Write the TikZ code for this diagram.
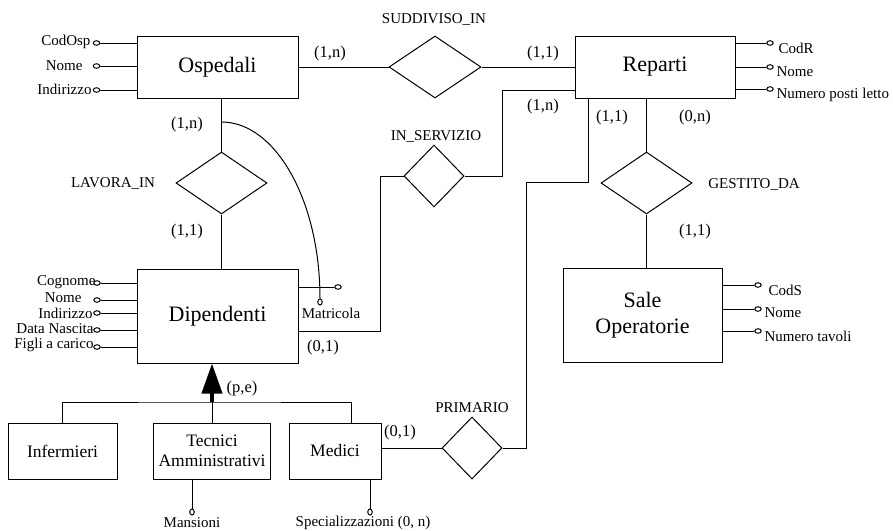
\documentclass[tikz,border=0pt]{standalone}
\usepackage{fontspec}
\setmainfont{Liberation Serif}
\usetikzlibrary{shapes.geometric, arrows.meta, positioning}
\tikzstyle{entity} = [rectangle, draw=black, text centered, align=center, inner sep=0pt, font=\fontsize{22}{26}\selectfont]
\tikzstyle{subent} = [rectangle, draw=black, align=center, inner sep=0pt, minimum height=56pt, font=\fontsize{17.5}{20}\selectfont]
\tikzstyle{rel} = [diamond, draw=black, inner sep=0pt, minimum height=62pt]
\tikzstyle{attr} = [ellipse, draw=black, fill=white, inner sep=0pt, minimum width=6.5pt, minimum height=4.5pt]
\tikzstyle{vattr} = [ellipse, draw=black, fill=white, inner sep=0pt, minimum width=4.5pt, minimum height=6pt]
\tikzstyle{lbl} = [inner sep=0pt, font=\fontsize{15}{17}\selectfont]
\tikzstyle{card} = [inner sep=0pt, font=\fontsize{16.5}{18}\selectfont]
\tikzstyle{isa} = [line width=4pt, -{Triangle[length=30pt, width=20pt]}]

\begin{document}
\begin{tikzpicture}[x=1pt, y=-1pt, line width=1pt]
	\useasboundingbox (0,0) rectangle (893,530);
	% entities
	\node (ospedali) [entity, minimum width=161pt, minimum height=62pt] at (217.5,67) {Ospedali};
	\node (suddiviso) [rel, minimum width=92pt, right=90pt of ospedali] {};
	\node (reparti) [entity, minimum width=160pt, minimum height=62pt, right=93pt of suddiviso] {Reparti};
	\node (dipendenti) [entity, minimum width=161pt, minimum height=94pt, below=170pt of ospedali] {Dipendenti};
	\node (lavora) [rel, minimum width=91pt] at (221.5,183) {};
	\node (servizio) [rel, minimum width=60pt] at (434,176) {};
	\node (gestito) [rel, minimum width=91pt] at (646.5,183) {};
	\node (sale) [entity, minimum width=159pt, minimum height=94pt] at (642.5,315) {Sale\\Operatorie};
	\node (infermieri) [subent, minimum width=109pt] at (62.5,451) {Infermieri};
	\node (tecnici) [subent, minimum width=117pt] at (212,451) {Tecnici\\Amministrativi};
	\node (medici) [subent, minimum width=92pt] at (335,451) {Medici};
	\node (primario) [rel, minimum width=60pt] at (472,448) {};
	\coordinate (arc) at (221.5,122);
	\coordinate (bendd) at (380,176);
	\coordinate (bends) at (502,90);
	\coordinate (bendp) at (526,182);
	\coordinate (gen) at (212,402);

	% relationships
	\draw (ospedali) -- (suddiviso);
	\draw (suddiviso) -- (reparti);
	\draw (lavora.north) -- (lavora.north |- ospedali.south);
	\draw (lavora.south) -- (lavora.south |- dipendenti.north);
	\draw ([yshift=-15pt]dipendenti.east) -| (bendd) -- (servizio.west);
	\draw (servizio.east) -| (bends) -- ([yshift=-23pt]reparti.west);
	\draw (gestito.north) -- (gestito.north |- reparti.south);
	\draw (gestito.south) -- (gestito.south |- sale.north);
	\draw (primario.west) -- (primario.west -| medici.east);
	\draw (primario.east) -| (bendp) -| ([xshift=-67pt]reparti.south);

	% generalizzazione
	\draw (infermieri.north) |- (gen) -| ([xshift=16pt]medici.north);
	\draw (tecnici.north) -- (gen);
	\draw [isa] (gen) -- (gen |- dipendenti.south);

	% attributi Ospedali
	\node (oc1) [attr] at (96.5,43) {};
	\node (oc2) [attr] at (96.5,66) {};
	\node (oc3) [attr] at (96.5,90) {};
	\draw (oc1) -- (oc1 -| ospedali.west);
	\draw (oc2) -- (oc2 -| ospedali.west);
	\draw (oc3) -- (oc3 -| ospedali.west);
	\node [lbl, anchor=east] at (91,42) {CodOsp};
	\node [lbl, anchor=east] at (83,66) {Nome};
	\node [lbl, anchor=east] at (92,89) {Indirizzo};

	% attributi Reparti
	\node (rc1) [attr] at (770,43) {};
	\node (rc2) [attr] at (770,67) {};
	\node (rc3) [attr] at (770,89) {};
	\draw (rc1) -- (rc1 -| reparti.east);
	\draw (rc2) -- (rc2 -| reparti.east);
	\draw (rc3) -- (rc3 -| reparti.east);
	\node [lbl, anchor=west] at (778,48) {CodR};
	\node [lbl, anchor=west] at (776,72) {Nome};
	\node [lbl, anchor=west] at (776,95) {Numero posti letto};

	% attributi Dipendenti
	\node (dc1) [attr] at (97,283) {};
	\node (dc2) [attr] at (97,300) {};
	\node (dc3) [attr] at (97,313) {};
	\node (dc4) [attr] at (97,330) {};
	\node (dc5) [attr] at (97,347) {};
	\draw (dc1) -- (dc1 -| dipendenti.west);
	\draw (dc2) -- (dc2 -| dipendenti.west);
	\draw (dc3) -- (dc3 -| dipendenti.west);
	\draw (dc4) -- (dc4 -| dipendenti.west);
	\draw (dc5) -- (dc5 -| dipendenti.west);
	\node [lbl, anchor=east] at (96,282) {Cognome};
	\node [lbl, anchor=east] at (82,298) {Nome};
	\node [lbl, anchor=east] at (93,313) {Indirizzo};
	\node [lbl, anchor=east] at (94,329) {Data Nascita};
	\node [lbl, anchor=east] at (94,345) {Figli a carico};
	\node (mc1) [attr] at (338,287) {};
	\node (mc2) [vattr] at (320,302) {};
	\draw (mc1) -- (mc1 -| dipendenti.east);
	\draw (arc) .. controls +(54,0) and +(0,-98) .. (mc2.north);
	\node [lbl] at (331,313) {Matricola};

	% attributi Sale Operatorie
	\node (sc1) [attr] at (758,285) {};
	\node (sc2) [attr] at (758,309) {};
	\node (sc3) [attr] at (758,331) {};
	\draw (sc1) -- (sc1 -| sale.east);
	\draw (sc2) -- (sc2 -| sale.east);
	\draw (sc3) -- (sc3 -| sale.east);
	\node [lbl, anchor=west] at (768,290) {CodS};
	\node [lbl, anchor=west] at (764,313) {Nome};
	\node [lbl, anchor=west] at (764,336) {Numero tavoli};

	% attributi figli
	\node (tc1) [vattr] at (192,512) {};
	\node (mec1) [vattr] at (370,512) {};
	\draw (tc1) -- (tc1 |- tecnici.south);
	\draw (mec1) -- (mec1 |- medici.south);
	\node [lbl] at (192,523) {Mansioni};
	\node [lbl] at (363,523) {Specializzazioni (0, n)};

	% nomi relazioni e cardinalita
	\node [lbl] at (434,20) {SUDDIVISO\_IN};
	\node [lbl] at (113,183) {LAVORA\_IN};
	\node [lbl] at (436,136) {IN\_SERVIZIO};
	\node [lbl] at (754,184) {GESTITO\_DA};
	\node [lbl] at (472,408) {PRIMARIO};
	\node [card] at (330,54) {(1,n)};
	\node [card] at (543,54) {(1,1)};
	\node [card] at (543,107) {(1,n)};
	\node [card] at (187,125) {(1,n)};
	\node [card] at (187,232) {(1,1)};
	\node [card] at (612,118) {(1,1)};
	\node [card] at (695,118) {(0,n)};
	\node [card] at (695,232) {(1,1)};
	\node [card] at (323,348) {(0,1)};
	\node [card] at (400,433) {(0,1)};
	\node [card] at (242,389) {(p,e)};
\end{tikzpicture}
\end{document}
